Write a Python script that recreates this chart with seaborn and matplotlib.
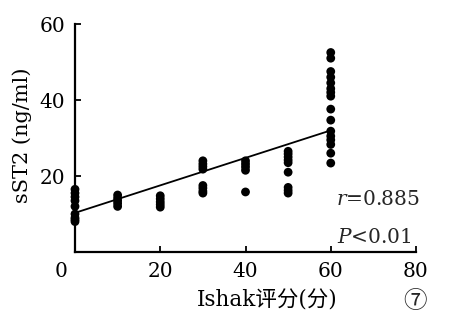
import numpy as np
import pandas as pd
import matplotlib
matplotlib.use("Agg")
import matplotlib.pyplot as plt
import matplotlib.transforms as mtransforms
import seaborn as sns

# Ishak fibrosis score groups and the sST2 level of each patient
score_0 = [16.5, 15.5, 14.5, 13.5, 12.0, 10.0, 9.0, 8.5, 8.0]
score_10 = [15.0, 14.2, 13.5, 12.8, 12.0]
score_20 = [14.8, 14.0, 13.2, 12.5, 11.8]
score_30 = [24.0, 23.2, 22.5, 21.8, 17.5, 16.8, 16.0, 15.5]
score_40 = [24.0, 23.2, 22.4, 21.5, 15.8]
score_50 = [26.5, 25.8, 25.0, 24.2, 23.5, 21.0, 17.0, 16.2, 15.5]
score_60 = [52.5, 51.0, 47.5, 46.0, 44.5, 43.0, 42.0, 41.0, 37.6, 34.7,
            31.8, 30.5, 29.5, 28.3, 26.0, 23.4]
group_scores = [0, 10, 20, 30, 40, 50, 60]

# fitted regression line (end points)
fit_x = [0, 60]
fit_y = [10.3, 32.0]

r_text = "0.885"
p_text = "0.01"
x_ticks = [0, 20, 40, 60, 80]
y_ticks = [20, 40, 60]

groups = [score_0, score_10, score_20, score_30, score_40, score_50, score_60]
df = pd.DataFrame({
    "ishak": np.concatenate([[s] * len(g) for s, g in zip(group_scores, groups)]),
    "sst2": np.concatenate(groups),
})

sns.set_theme(style="ticks")
serif = ["DejaVu Serif", "Noto Sans CJK SC"]
plt.rcParams["font.family"] = serif
plt.rcParams["mathtext.fontset"] = "dejavuserif"

fig = plt.figure(figsize=(4.66, 3.33), dpi=100)
ax = fig.add_axes([75 / 466, 1 - 252 / 333, 341 / 466, 228 / 333])

sns.scatterplot(data=df, x="ishak", y="sst2", ax=ax, color="black",
                s=40, edgecolor="none", linewidth=0, clip_on=False, zorder=3)
sns.lineplot(x=fit_x, y=fit_y, ax=ax, color="black", linewidth=1.3)

ax.set_xlim(0, 80)
ax.set_ylim(0, 60)
ax.set_xticks(x_ticks)
ax.set_yticks(y_ticks)
ax.set_xticklabels([str(t) for t in x_ticks])
ax.set_yticklabels([str(t) for t in y_ticks])
sns.despine(ax=ax)
for side in ["left", "bottom"]:
    ax.spines[side].set_linewidth(1.6)
    ax.spines[side].set_color("black")
ax.tick_params(direction="in", length=4, width=1.3, color="black",
               labelsize=14.5, labelcolor="black", pad=7)

# shift the origin label slightly left
lbl0 = ax.get_xticklabels()[0]
lbl0.set_transform(lbl0.get_transform() +
                   mtransforms.ScaledTranslation(-14 / 100, 0, fig.dpi_scale_trans))

ax.set_xlabel("Ishak评分(分)", fontsize=15.5, color="black")
ax.xaxis.set_label_coords(0.565, -0.165)
ax.set_ylabel("sST2 (ng/ml)", fontsize=15, color="black")
ax.yaxis.set_label_coords(-0.127, 0.51)

ax.text(61.2, 13.7, "$r$=" + r_text, fontsize=14.5, ha="left", va="center")
ax.text(61.4, 3.9, "$P$<" + p_text, fontsize=14.5, ha="left", va="center")
fig.text(415 / 466, 1 - 302 / 333, "⑦", fontsize=17, ha="center", va="center",
         family=["Noto Sans CJK SC", "DejaVu Sans"])

fig.savefig("out.png", dpi=100)
